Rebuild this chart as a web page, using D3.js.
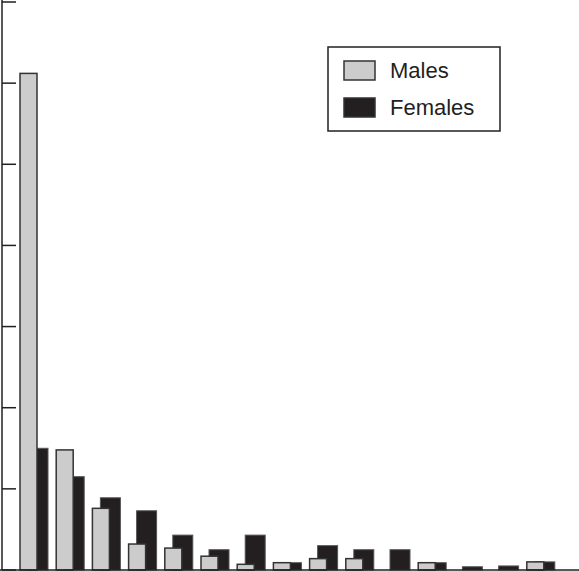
<!DOCTYPE html>
<html><head><meta charset="utf-8">
<script src="https://cdn.jsdelivr.net/npm/d3@7"></script>
<style>body{margin:0;background:#fff}</style>
</head><body>
<svg width="579" height="571"></svg>
<script>
// Datos
const groups = d3.range(1, 16);
const males = [6.12, 1.48, 0.76, 0.32, 0.27, 0.17, 0.07, 0.09, 0.14, 0.14, 0, 0.09, 0, 0, 0.10];
const females = [1.50, 1.15, 0.89, 0.73, 0.43, 0.25, 0.43, 0.09, 0.30, 0.25, 0.25, 0.09, 0.04, 0.05, 0.10];
const yTicks = [0, 1, 2, 3, 4, 5, 6, 7];

const svg = d3.select('svg');
const x = d3.scaleBand().domain(groups).range([11, 554]);
const y = d3.scaleLinear().domain([0, 7]).range([570, 2]);

// Barras de mujeres (detrás)
svg.selectAll('.f').data(groups).enter().append('rect')
  .attr('x', (g) => x(g) + 17).attr('width', 20)
  .attr('y', (g, i) => y(females[i])).attr('height', (g, i) => y(0) - y(females[i]))
  .attr('fill', '#231f20').attr('stroke', '#555').attr('stroke-width', 1)
  .attr('display', (g, i) => females[i] > 0 ? null : 'none');

// Barras de hombres (delante)
svg.selectAll('.m').data(groups).enter().append('rect')
  .attr('x', (g) => x(g) + 9).attr('width', 17)
  .attr('y', (g, i) => y(males[i])).attr('height', (g, i) => y(0) - y(males[i]))
  .attr('fill', '#cccccc').attr('stroke', '#333').attr('stroke-width', 1.5)
  .attr('display', (g, i) => males[i] > 0 ? null : 'none');

// Ejes
svg.append('line').attr('x1', 0).attr('x2', 579).attr('y1', 570).attr('y2', 570)
  .attr('stroke', '#231f20').attr('stroke-width', 1.5);
svg.append('line').attr('x1', 2).attr('x2', 2).attr('y1', 0).attr('y2', 570)
  .attr('stroke', '#231f20').attr('stroke-width', 1.5);
svg.selectAll('.tick').data(yTicks).enter().append('line')
  .attr('x1', 2).attr('x2', 16).attr('y1', (d) => y(d)).attr('y2', (d) => y(d))
  .attr('stroke', '#231f20').attr('stroke-width', 1.5);

// Leyenda
const lg = svg.append('g');
lg.append('rect').attr('x', 328).attr('y', 47).attr('width', 172).attr('height', 84)
  .attr('fill', '#fff').attr('stroke', '#231f20').attr('stroke-width', 1.5);
const items = [['Males', '#cccccc'], ['Females', '#231f20']];
items.forEach(([name, col], i) => {
  lg.append('rect').attr('x', 344).attr('y', 61 + i * 37).attr('width', 31).attr('height', 19)
    .attr('fill', col).attr('stroke', '#333').attr('stroke-width', 1.5);
  lg.append('text').attr('x', 390).attr('y', 78 + i * 37).text(name)
    .attr('font-family', 'Liberation Sans, Arial, sans-serif').attr('font-size', 22).attr('fill', '#231f20');
});
</script>
</body></html>
